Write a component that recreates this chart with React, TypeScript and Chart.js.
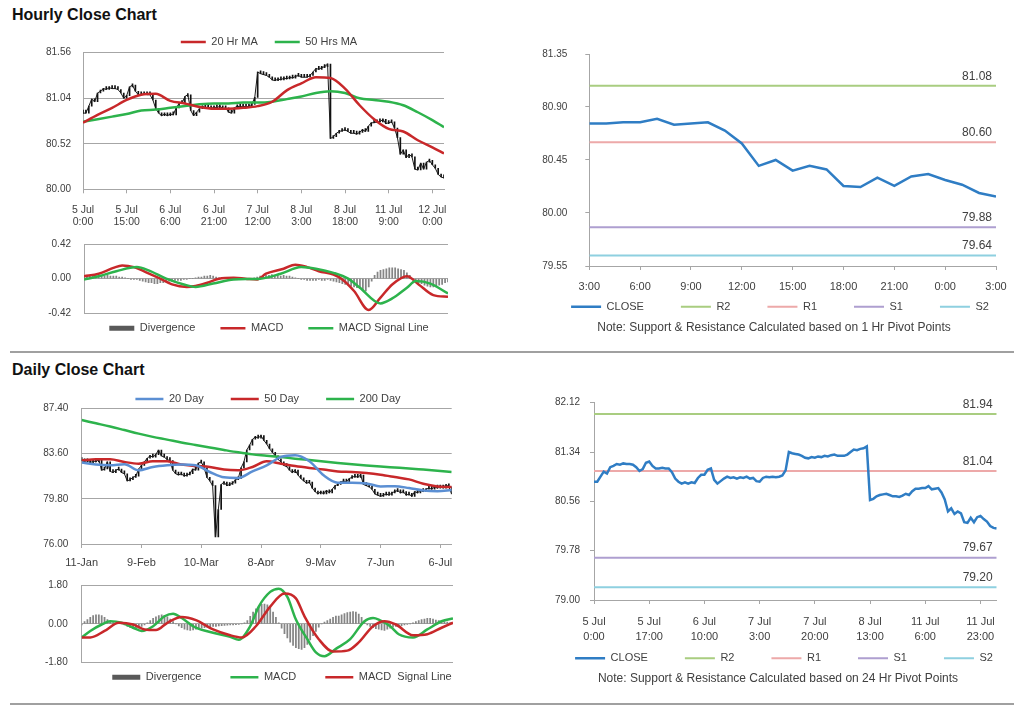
import React, { useEffect, useRef } from 'react';
import { Chart, registerables } from 'chart.js';

Chart.register(...registerables);

const FONT = '"Liberation Sans", Arial, Helvetica, sans-serif';
Chart.defaults.font.family = FONT;
Chart.defaults.color = '#404040';

const TEXT = '#404040';
const GRID = '#a6a6a6';
const RED = '#c8282a';
const GREEN = '#2db34c';
const BLUE20 = '#5b8fd3';
const CLOSE_BLUE = '#2f7dc4';
const HIST = '#858585';
const HIST_KEY = '#595959';
const LEVEL_COLORS = ['#a9cd80', '#eda9a9', '#ae9fd0', '#8ed0e0'];

// ================= Hourly close chart (5 Jul 0:00 .. 12 Jul 4:00) =================
const hourlyTickIdx = [0, 15, 30, 45, 60, 75, 90, 105, 120];
const hourlyTickLabels = [
  ['5 Jul', '0:00'], ['5 Jul', '15:00'], ['6 Jul', '6:00'], ['6 Jul', '21:00'], ['7 Jul', '12:00'],
  ['8 Jul', '3:00'], ['8 Jul', '18:00'], ['11 Jul', '9:00'], ['12 Jul', '0:00'],
];
const hourlyPriceTicks = [80.0, 80.52, 81.04, 81.56];
const hourlyClose = [
  80.87, 80.87, 80.95, 81.03, 81.0,
  81.1, 81.12, 81.15, 81.14, 81.16,
  81.15, 81.15, 81.14, 81.1, 81.04,
  81.07, 81.17, 81.19, 81.12, 81.08,
  81.08, 81.09, 81.08, 81.08, 81.02,
  80.92, 80.87, 80.84, 80.86, 80.84,
  80.86, 80.85, 80.93, 80.98, 80.98,
  81.06, 81.08, 80.9, 80.84, 80.88,
  80.92, 80.95, 80.93, 80.94, 80.92,
  80.94, 80.93, 80.95, 80.92, 80.93,
  80.88, 80.87, 80.93, 80.95, 80.94,
  80.95, 80.94, 80.95, 80.97, 81.05,
  81.34, 81.32, 81.31, 81.3, 81.28,
  81.25, 81.24, 81.26, 81.25, 81.27,
  81.26, 81.28, 81.27, 81.29, 81.3,
  81.28, 81.28, 81.28, 81.3, 81.34,
  81.38, 81.37, 81.39, 81.4, 81.43,
  80.58, 80.6, 80.64, 80.66, 80.67,
  80.68, 80.66, 80.64, 80.64, 80.63,
  80.65, 80.68, 80.66, 80.72, 80.76,
  80.76, 80.77, 80.77, 80.8, 80.75,
  80.76, 80.77, 80.7, 80.59, 80.4,
  80.45, 80.36, 80.4, 80.37, 80.23,
  80.22, 80.3, 80.23, 80.31, 80.33,
  80.28, 80.24, 80.17, 80.14, 80.13,
];
const hourlyMaIdx = [0, 5, 10, 15, 20, 25, 30, 35, 40, 45, 50, 55, 60, 65, 70, 75, 80, 85, 90, 95, 100, 105, 110, 115, 120, 124];
const hourlyMa20 = [80.76, 80.85, 80.93, 81.02, 81.08, 81.09, 81.01, 80.98, 80.94, 80.92, 80.92, 80.93, 80.95, 81.0, 81.13, 81.21, 81.28, 81.27, 81.15, 80.96, 80.8, 80.69, 80.66, 80.56, 80.48, 80.41];
const hourlyMa50 = [80.77, 80.8, 80.83, 80.86, 80.9, 80.91, 80.93, 80.95, 80.97, 80.98, 80.98, 80.99, 80.99, 81.0, 81.03, 81.06, 81.1, 81.12, 81.1, 81.04, 81.02, 81.0, 80.96, 80.88, 80.79, 80.71];

const hourlyMacdTicks = [-0.42, 0, 0.42];
const hourlyMacdIdx = [0, 5, 10, 13, 17, 21, 26, 30, 35, 38, 42, 46, 51, 55, 59, 62, 68, 72, 76, 80, 85, 88, 92, 97, 101, 105, 110, 114, 119, 124];
const hourlyMacd = [0.03, 0.06, 0.13, 0.16, 0.14, 0.08, 0.0, -0.07, -0.1, -0.09, -0.05, 0.0, 0.01, 0.0, -0.01, 0.06, 0.12, 0.17, 0.14, 0.09, 0.05, -0.01, -0.15, -0.38, -0.23, -0.07, 0.03, -0.07, -0.2, -0.22];
const hourlySignalIdx = [0, 5, 11, 18, 22, 28, 34, 38, 44, 51, 60, 67, 74, 79, 85, 90, 94, 101, 105, 110, 113, 118, 124];
const hourlySignal = [-0.01, 0.03, 0.09, 0.14, 0.1, 0.0, -0.07, -0.1, -0.06, -0.01, 0.0, 0.06, 0.14, 0.12, 0.07, 0.0, -0.11, -0.3, -0.24, -0.11, -0.03, -0.06, -0.18];
const hourlyDivergence = [
  0.02, 0.03, 0.03, 0.04, 0.04,
  0.04, 0.04, 0.03, 0.04, 0.03,
  0.03, 0.03, 0.02, 0.02, 0.01,
  0.0, -0.01, -0.01, -0.01, -0.02,
  -0.03, -0.04, -0.05, -0.05, -0.06,
  -0.06, -0.05, -0.05, -0.04, -0.03,
  -0.03, -0.02, -0.02, -0.02, -0.01,
  -0.01, 0.0, 0.0, 0.01, 0.02,
  0.02, 0.03, 0.03, 0.04, 0.03,
  0.02, 0.01, 0.01, 0.0, 0.0,
  0.0, 0.0, 0.01, 0.0, 0.0,
  0.0, -0.01, 0.0, 0.01, 0.02,
  0.03, 0.03, 0.04, 0.04, 0.05,
  0.04, 0.04, 0.03, 0.04, 0.03,
  0.03, 0.02, 0.01, 0.0, -0.01,
  -0.01, -0.02, -0.02, -0.02, -0.02,
  -0.01, -0.02, -0.02, -0.01, -0.02,
  -0.03, -0.04, -0.05, -0.06, -0.07,
  -0.08, -0.09, -0.1, -0.11, -0.12,
  -0.14, -0.15, -0.1, -0.03, 0.04,
  0.08, 0.1, 0.11, 0.12, 0.13,
  0.13, 0.13, 0.12, 0.11, 0.1,
  0.07, 0.04, 0.0, -0.03, -0.05,
  -0.06, -0.08, -0.09, -0.1, -0.1,
  -0.09, -0.08, -0.07, -0.05, -0.04,
];

// ================= Last 24 hours, 1 Hr pivots =================
const last24Labels = ['3:00', '4:00', '5:00', '6:00', '7:00', '8:00', '9:00', '10:00', '11:00', '12:00', '13:00', '14:00', '15:00', '16:00', '17:00', '18:00', '19:00', '20:00', '21:00', '22:00', '23:00', '0:00', '1:00', '2:00', '3:00'];
const last24TickIdx = [0, 3, 6, 9, 12, 15, 18, 21, 24];
const last24Close = [80.76, 80.76, 80.77, 80.77, 80.8, 80.75, 80.76, 80.77, 80.7, 80.59, 80.4, 80.45, 80.36, 80.4, 80.37, 80.23, 80.22, 80.3, 80.23, 80.31, 80.33, 80.28, 80.24, 80.17, 80.14];
const last24Ticks = [79.55, 80.0, 80.45, 80.9, 81.35];
const levelNames = ['R2', 'R1', 'S1', 'S2'];
const pivot1hLevels = [81.08, 80.6, 79.88, 79.64];

// ================= Daily close chart =================
const dailyTickIdx = [0, 21, 42, 63, 84, 105, 126];
const dailyTickLabels = ['11-Jan', '9-Feb', '10-Mar', '8-Apr', '9-May', '7-Jun', '6-Jul'];
const dailyPriceTicks = [76.0, 79.8, 83.6, 87.4];
const dailyClose = [
  83.0, 82.9, 83.1, 82.8, 83.0, 82.9, 83.1, 82.2, 82.3, 82.9,
  82.1, 82.0, 82.2, 82.3, 82.0, 81.9, 81.3, 81.4, 81.6, 81.7,
  82.3, 82.6, 82.9, 83.2, 83.4, 83.3, 83.5, 83.9, 83.4, 83.3,
  83.1, 83.0, 82.2, 81.9, 81.8, 81.9, 81.7, 81.8, 81.9, 82.3,
  82.2, 82.8, 82.9, 82.4, 81.6, 81.3, 80.9, 76.6, 78.9, 81.0,
  81.2, 80.9, 81.0, 81.1, 81.4, 81.5, 82.4, 82.9, 83.9, 84.3,
  84.8, 85.0, 84.9, 85.1, 84.7, 84.4, 84.0, 83.7, 83.4, 83.1,
  82.9, 82.6, 82.5, 82.2, 82.0, 82.2, 81.8, 81.5, 81.3, 81.1,
  81.2, 80.7, 80.4, 80.2, 80.4, 80.2, 80.5, 80.3, 80.6, 80.9,
  81.0, 81.2, 81.3, 81.2, 81.5, 81.6, 81.7, 81.6, 81.8, 81.0,
  80.9, 80.8, 80.6, 80.2, 80.1, 80.0, 80.1, 80.2, 80.1, 80.3,
  80.4, 80.5, 80.3, 80.4, 80.1, 80.2, 80.0, 80.4, 80.3, 80.5,
  80.4, 80.6, 80.7, 80.6, 80.8, 80.7, 80.9, 80.7, 81.0, 80.8, 80.2,
];
const dailyMaIdx = [0, 5, 10, 15, 20, 25, 30, 35, 40, 45, 50, 55, 60, 65, 70, 75, 80, 85, 90, 95, 100, 105, 110, 115, 120, 125, 130];
const dailyMa20 = [82.84, 82.67, 82.61, 82.7, 82.19, 82.47, 82.61, 82.67, 82.61, 82.05, 81.6, 81.55, 82.1, 82.61, 83.32, 83.46, 82.95, 81.77, 81.15, 81.15, 81.09, 80.84, 80.86, 80.7, 80.5, 80.44, 80.53];
const dailyMa50 = [83.03, 83.12, 83.12, 82.89, 82.75, 82.95, 82.95, 82.67, 82.55, 82.47, 82.25, 82.19, 82.47, 82.95, 82.75, 82.55, 82.39, 82.25, 82.1, 82.05, 81.96, 81.82, 81.63, 81.43, 81.06, 80.84, 80.78];
const dailyMa200 = [86.41, 86.14, 85.87, 85.57, 85.27, 85.0, 84.77, 84.53, 84.32, 84.11, 83.9, 83.7, 83.53, 83.42, 83.3, 83.17, 83.05, 82.93, 82.81, 82.7, 82.6, 82.51, 82.43, 82.35, 82.25, 82.15, 82.05];

const dailyMacdTicks = [-1.8, 0, 1.8];
const dailyMacdIdx = [0, 3, 7, 10, 14, 18, 21, 25, 29, 32, 35, 40, 46, 52, 55, 59, 62, 66, 69, 72, 75, 79, 82, 85, 89, 94, 99, 102, 104, 108, 111, 116, 121, 126, 130];
const dailyMacd = [-0.63, -0.33, -0.03, 0.12, 0.05, -0.18, -0.33, -0.11, 0.35, 0.47, 0.27, -0.18, -0.41, -0.6, -0.74, -0.11, 0.8, 1.48, 1.63, 1.25, 0.2, -0.71, -1.32, -1.5, -1.16, -0.71, 0.12, 0.27, 0.2, -0.11, -0.48, -0.63, -0.26, 0.12, 0.25];
const dailySignalIdx = [0, 3, 8, 13, 18, 22, 26, 30, 35, 40, 46, 52, 56, 61, 66, 71, 75, 78, 83, 88, 93, 97, 102, 106, 110, 116, 121, 126, 130];
const dailySignal = [-0.63, -0.63, -0.33, 0.05, -0.03, -0.26, -0.29, 0.05, 0.32, 0.17, -0.26, -0.53, -0.63, -0.11, 0.8, 1.41, 1.18, 0.35, -0.71, -1.28, -1.24, -0.86, -0.11, 0.12, -0.03, -0.53, -0.48, -0.18, 0.05];
const dailyDivergence = [
  -0.05, 0.1, 0.2, 0.3, 0.38, 0.42, 0.42, 0.38, 0.3, 0.2,
  0.12, 0.06, 0.03, 0.02, 0.0, -0.05, -0.12, -0.18, -0.22, -0.23,
  -0.2, -0.12, -0.05, 0.05, 0.15, 0.25, 0.32, 0.38, 0.42, 0.4,
  0.33, 0.22, 0.1, 0.0, -0.1, -0.18, -0.25, -0.28, -0.3, -0.28,
  -0.25, -0.22, -0.2, -0.18, -0.15, -0.14, -0.12, -0.12, -0.1, -0.08,
  -0.07, -0.06, -0.05, -0.05, -0.04, -0.02, 0.0, 0.05, 0.15, 0.35,
  0.55, 0.7, 0.82, 0.9, 0.92, 0.88, 0.75, 0.55, 0.3, 0.05,
  -0.2, -0.45, -0.65, -0.85, -1.0, -1.1, -1.15, -1.18, -1.1, -0.95,
  -0.75, -0.55, -0.35, -0.15, 0.0, 0.08, 0.15, 0.22, 0.3, 0.36,
  0.36, 0.42, 0.48, 0.52, 0.55, 0.57, 0.55, 0.45, 0.3, 0.12,
  -0.05, -0.12, -0.18, -0.22, -0.25, -0.28, -0.3, -0.25, -0.2, -0.15,
  -0.12, -0.1, -0.08, -0.05, -0.03, 0.0, 0.05, 0.1, 0.15, 0.2,
  0.22, 0.25, 0.25, 0.22, 0.18, 0.15, 0.12, 0.1, 0.08, 0.06, 0.05,
];

// ================= Hourly close, 24 Hr pivots =================
const pivotTickIdx = [0, 17, 34, 51, 68, 85, 102, 119];
const pivotTickLabels = [
  ['5 Jul', '0:00'], ['5 Jul', '17:00'], ['6 Jul', '10:00'], ['7 Jul', '3:00'],
  ['7 Jul', '20:00'], ['8 Jul', '13:00'], ['11 Jul', '6:00'], ['11 Jul', '23:00'],
];
const pivot24Ticks = [79.0, 79.78, 80.56, 81.34, 82.12];
const pivot24Levels = [81.94, 81.04, 79.67, 79.2];

// ================= helpers =================
const byIndex = (vals: number[]) => vals.map((y, x) => ({ x, y }));
const atIndex = (idx: number[], vals: number[]) => idx.map((x, k) => ({ x, y: vals[k] }));
const closeToClose = (vals: number[]) => vals.map((c, i) => ({ x: i, y: [i > 0 ? vals[i - 1] : c, c] }));
const flatLevel = (v: number, last: number) => [{ x: 0, y: v }, { x: last, y: v }];

const setTicks = (values: number[]) => (scale: any) => { scale.ticks = values.map((value) => ({ value })); };
const fixWidth = (w: number) => (scale: any) => { scale.width = w; };
const fixHeight = (h: number) => (scale: any) => { scale.height = h; };

const lineDs = (label: string, data: any[], color: string, width: number, order: number, smooth = true) => ({
  type: 'line', label, data, borderColor: color, backgroundColor: color, borderWidth: width,
  pointRadius: 0, order, tension: smooth ? 0.4 : 0, cubicInterpolationMode: smooth ? 'monotone' : 'default',
});
const priceBars = (vals: number[]) => ({
  type: 'bar', label: 'Price', data: closeToClose(vals), backgroundColor: '#111111', borderWidth: 0,
  barThickness: 1, minBarLength: 3, order: 6,
});
const priceLine = (vals: number[]) => ({
  type: 'line', label: 'Price', data: byIndex(vals), borderColor: '#1a1a1a', backgroundColor: '#1a1a1a',
  borderWidth: 1, pointRadius: 0, tension: 0, order: 5,
});
const histBars = (vals: number[]) => ({
  type: 'bar', label: 'Divergence', data: byIndex(vals), backgroundColor: HIST, borderWidth: 0,
  barThickness: 1.1, order: 5, keyColor: HIST_KEY, keyWidth: 5,
});

const legendOpts = (position: string, boxWidth: number, padding: number) => ({
  display: true, position, maxHeight: 1,
  labels: {
    boxWidth, boxHeight: 0, padding, color: TEXT, font: { size: 11, family: FONT },
    filter: (item: any) => item.text !== 'Price',
    sort: (a: any, b: any) => a.datasetIndex - b.datasetIndex,
    generateLabels: (chart: any) =>
      (Chart.defaults.plugins.legend.labels as any).generateLabels(chart).map((it: any) => {
        const ds = chart.data.datasets[it.datasetIndex];
        return { ...it, fillStyle: 'rgba(0,0,0,0)', strokeStyle: ds.keyColor || ds.borderColor, lineWidth: ds.keyWidth || ds.borderWidth, lineCap: 'butt', lineJoin: 'bevel', lineDash: [] };
      }),
  },
});
const noteOpts = (text: string) => ({
  display: true, text, position: 'bottom', color: TEXT,
  font: { size: 12, family: FONT, weight: 'normal', lineHeight: 1.2 },
  padding: { top: 0, bottom: -14.4 },
});

const placeBoxes = (legend?: { x: number; y: number; pad: number }, note?: { x: number; y: number }) => ({
  id: 'placeBoxes',
  afterLayout(chart: any) {
    const L = chart.legend;
    if (L && legend) {
      const top = legend.y - legend.pad - 5.5;
      Object.assign(L, { left: legend.x - 300, right: legend.x + 300, width: 600, top, bottom: top + 60, height: 60 });
    }
    const T = chart.titleBlock;
    if (T && note) {
      Object.assign(T, { left: note.x - 300, right: note.x + 300, width: 600, top: note.y - 7.2, bottom: note.y + 10, height: 17.2 });
    }
  },
});

const levelLabels = (levels: number[]) => ({
  id: 'levelLabels',
  afterDatasetsDraw(chart: any) {
    const { ctx, chartArea, scales } = chart;
    ctx.save();
    ctx.font = `12px ${FONT}`;
    ctx.fillStyle = TEXT;
    ctx.textAlign = 'right';
    ctx.textBaseline = 'middle';
    levels.forEach((v) => ctx.fillText(v.toFixed(2), chartArea.right - 4, scales.y.getPixelForValue(v) - 9.5));
    ctx.restore();
  },
});

const gridY = (min: number, max: number, ticks: number[], width: number, pad: number) => ({
  type: 'linear', min, max, afterBuildTicks: setTicks(ticks), afterFit: fixWidth(width),
  grid: { color: GRID, lineWidth: 1, drawTicks: false },
  border: { color: GRID, width: 1 },
  ticks: { padding: pad, color: TEXT, font: { size: 10 }, callback: (v: any) => Number(v).toFixed(2) },
});
const axisY = (min: number, max: number, ticks: number[], width: number, pad: number) => ({
  type: 'linear', min, max, afterBuildTicks: setTicks(ticks), afterFit: fixWidth(width),
  grid: { drawOnChartArea: false, drawTicks: true, tickLength: 4, color: GRID },
  border: { color: GRID, width: 1 },
  ticks: { padding: pad, color: TEXT, font: { size: 10 }, callback: (v: any) => Number(v).toFixed(2) },
});
const indexX = (max: number, tickIdx: number[], labels: any[], height: number, pad: number, size = 11, lineHeight = 1.2) => ({
  type: 'linear', min: 0, max, offset: false, afterBuildTicks: setTicks(tickIdx), afterFit: fixHeight(height),
  grid: { drawOnChartArea: false, drawTicks: true, tickLength: 4, color: GRID, offset: false },
  border: { color: GRID, width: 1 },
  ticks: {
    autoSkip: false, maxRotation: 0, minRotation: 0, padding: pad, color: TEXT,
    font: { size, lineHeight }, callback: (v: any) => labels[tickIdx.indexOf(Number(v))],
  },
});
const hiddenX = (max: number) => ({ type: 'linear', min: 0, max, offset: false, display: false });

const base = (padding: any, legend: any, title: any = { display: false }) => ({
  animation: false, responsive: false, maintainAspectRatio: false, devicePixelRatio: 1, events: [],
  layout: { padding },
  plugins: { tooltip: { enabled: false }, legend, title },
});

// ================= chart configs =================
const hourlyPriceConfig = () => ({
  type: 'line',
  data: {
    datasets: [
      lineDs('20 Hr MA', atIndex(hourlyMaIdx, hourlyMa20), RED, 2.5, 0),
      lineDs('50 Hrs MA', atIndex(hourlyMaIdx, hourlyMa50), GREEN, 2.5, 1),
      priceLine(hourlyClose),
      priceBars(hourlyClose),
    ],
  },
  options: {
    ...base({ left: 0, right: 16, top: 51.7, bottom: 10.7 }, legendOpts('top', 25, 17)),
    scales: {
      x: indexX(124, hourlyTickIdx, hourlyTickLabels, 40, 10.8, 10.5, 1.12),
      y: gridY(80.0, 81.56, hourlyPriceTicks, 83, 12),
    },
  },
  plugins: [placeBoxes({ x: 269, y: 42, pad: 17 })],
});

const hourlyMacdConfig = () => ({
  type: 'line',
  data: {
    datasets: [
      histBars(hourlyDivergence),
      lineDs('MACD', atIndex(hourlyMacdIdx, hourlyMacd), RED, 2.5, 1),
      lineDs('MACD Signal Line', atIndex(hourlySignalIdx, hourlySignal), GREEN, 2.5, 0),
    ],
  },
  options: {
    ...base({ left: 0, right: 12, top: 12.7, bottom: 35.7 }, legendOpts('bottom', 25, 25)),
    scales: { x: hiddenX(124), y: gridY(-0.42, 0.42, hourlyMacdTicks, 84, 13) },
  },
  plugins: [placeBoxes({ x: 269, y: 103.3, pad: 25 })],
});

const last24Config = () => ({
  type: 'line',
  data: {
    datasets: [
      lineDs('CLOSE', byIndex(last24Close), CLOSE_BLUE, 2.5, 0, false),
      ...pivot1hLevels.map((v, k) => lineDs(levelNames[k], flatLevel(v, 24), LEVEL_COLORS[k], 2, k + 1, false)),
    ],
  },
  options: {
    ...base({ left: 0, right: 28, top: 17.7, bottom: 48 }, legendOpts('bottom', 30, 37), noteOpts('Note: Support & Resistance Calculated based on 1 Hr Pivot Points')),
    scales: {
      x: indexX(24, last24TickIdx, last24TickIdx.map((i) => last24Labels[i]), 35, 10.4),
      y: axisY(79.55, 81.35, last24Ticks, 129.3, 18),
    },
  },
  plugins: [placeBoxes({ x: 320, y: 276.7, pad: 37 }, { x: 314, y: 298 }), levelLabels(pivot1hLevels)],
});

const dailyPriceConfig = () => ({
  type: 'line',
  data: {
    datasets: [
      lineDs('20 Day', atIndex(dailyMaIdx, dailyMa20), BLUE20, 2.5, 0),
      lineDs('50 Day', atIndex(dailyMaIdx, dailyMa50), RED, 2.5, 1),
      lineDs('200 Day', atIndex(dailyMaIdx, dailyMa200), GREEN, 2.5, 2),
      priceLine(dailyClose),
      priceBars(dailyClose),
    ],
  },
  options: {
    ...base({ left: 0, right: 18.3, top: 52.3, bottom: 4 }, legendOpts('top', 28, 27)),
    scales: {
      x: indexX(130, dailyTickIdx, dailyTickLabels, 22, 7.9),
      y: gridY(76.0, 87.4, dailyPriceTicks, 81.7, 13.4),
    },
  },
  plugins: [placeBoxes({ x: 268, y: 44, pad: 27 })],
});

const dailyMacdConfig = () => ({
  type: 'line',
  data: {
    datasets: [
      histBars(dailyDivergence),
      lineDs('MACD', atIndex(dailyMacdIdx, dailyMacd), GREEN, 2.5, 1),
      lineDs('MACD  Signal Line', atIndex(dailySignalIdx, dailySignal), RED, 2.5, 0),
    ],
  },
  options: {
    ...base({ left: 0, right: 17, top: 18.3, bottom: 36.3 }, legendOpts('bottom', 28, 29)),
    scales: { x: hiddenX(130), y: gridY(-1.8, 1.8, dailyMacdTicks, 81.7, 14) },
  },
  plugins: [placeBoxes({ x: 282, y: 112.3, pad: 29 })],
});

const pivot24Config = () => ({
  type: 'line',
  data: {
    datasets: [
      lineDs('CLOSE', byIndex(hourlyClose), CLOSE_BLUE, 2.5, 0, false),
      ...pivot24Levels.map((v, k) => lineDs(levelNames[k], flatLevel(v, 124), LEVEL_COLORS[k], 2, k + 1, false)),
    ],
  },
  options: {
    ...base({ left: 0, right: 27.3, top: 17.7, bottom: 54 }, legendOpts('bottom', 30, 37), noteOpts('Note: Support & Resistance Calculated based on 24 Hr Pivot Points')),
    scales: {
      x: indexX(124, pivotTickIdx, pivotTickLabels, 45, 10.2, 11, 1.36),
      y: axisY(79.0, 82.12, pivot24Ticks, 134, 10),
    },
  },
  plugins: [placeBoxes({ x: 324, y: 273.3, pad: 37 }, { x: 318, y: 293.3 }), levelLabels(pivot24Levels)],
});

// ================= components =================
type Box = { left: number; top: number; width: number; height: number };

function ChartPanel({ box, build }: { box: Box; build: () => any }) {
  const ref = useRef<HTMLCanvasElement | null>(null);
  useEffect(() => {
    if (!ref.current) return;
    const chart = new Chart(ref.current, build() as any);
    return () => chart.destroy();
  }, []);
  return (
    <canvas
      ref={ref}
      width={box.width}
      height={box.height}
      style={{ position: 'absolute', left: box.left, top: box.top, width: box.width, height: box.height }}
    />
  );
}

const sectionTitle = (text: string, top: number) => (
  <div
    style={{
      position: 'absolute', left: 12, top, fontFamily: FONT, fontWeight: 'bold', fontSize: 16,
      lineHeight: '16px', color: '#111', whiteSpace: 'nowrap',
    }}
  >
    {text}
  </div>
);

export default function App() {
  return (
    <div style={{ position: 'absolute', left: 0, top: 0, width: 1024, height: 706, background: '#fff', overflow: 'hidden' }}>
      {sectionTitle('Hourly Close Chart', 7)}
      {sectionTitle('Daily Close Chart', 362)}
      <div style={{ position: 'absolute', left: 10, top: 351, width: 1004, height: 2, background: '#a0a0a0' }} />
      <div style={{ position: 'absolute', left: 10, top: 703, width: 1004, height: 2, background: '#a0a0a0' }} />
      <ChartPanel box={{ left: 0, top: 0, width: 460, height: 240 }} build={hourlyPriceConfig} />
      <ChartPanel box={{ left: 0, top: 225, width: 460, height: 125 }} build={hourlyMacdConfig} />
      <ChartPanel box={{ left: 460, top: 30, width: 564, height: 320 }} build={last24Config} />
      <ChartPanel box={{ left: 0, top: 355, width: 470, height: 215 }} build={dailyPriceConfig} />
      <ChartPanel box={{ left: 0, top: 565, width: 470, height: 135 }} build={dailyMacdConfig} />
      <ChartPanel box={{ left: 460, top: 385, width: 564, height: 315 }} build={pivot24Config} />
    </div>
  );
}
